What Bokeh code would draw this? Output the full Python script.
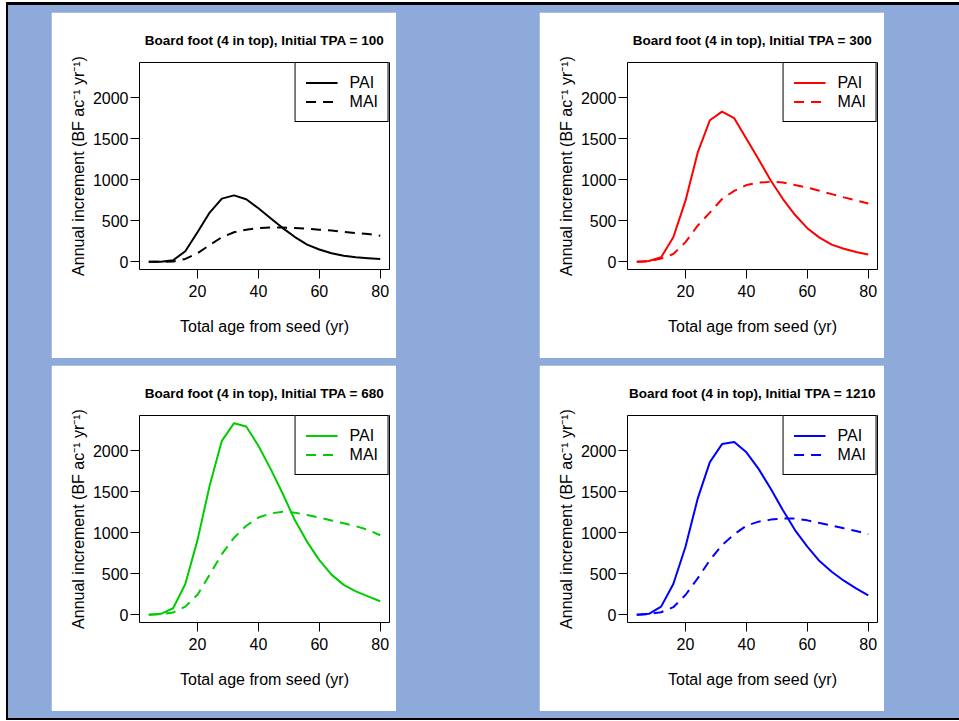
from bokeh.plotting import figure
from bokeh.models import (FixedTicker, Legend, LegendItem, Range1d, Spacer,
                          Column, Row)
from bokeh.embed import file_html
from bokeh.resources import INLINE

# Stand age (yr from seed)
age = [4, 8, 12, 16, 20, 24, 28, 32, 36, 40, 44, 48, 52, 56, 60, 64, 68, 72, 76, 80]

# Periodic (PAI) and mean (MAI) annual board-foot increment, BF/ac/yr
pai_100 = [0, 0, 20, 129, 360, 600, 770, 810, 762, 653, 532, 411, 302, 210, 150, 105, 75, 55, 45, 35]
mai_100 = [0, 0, 5, 35, 105, 205, 300, 360, 392, 410, 420, 418, 413, 403, 392, 382, 365, 350, 338, 318]

pai_300 = [0, 10, 55, 300, 745, 1330, 1725, 1830, 1750, 1500, 1250, 990, 765, 570, 410, 295, 210, 160, 120, 90]
mai_300 = [0, 5, 40, 95, 240, 440, 600, 765, 865, 935, 965, 975, 967, 935, 905, 865, 825, 785, 750, 710]

pai_680 = [0, 12, 80, 375, 910, 1575, 2120, 2335, 2295, 2060, 1778, 1475, 1151, 889, 667, 490, 365, 285, 225, 165]
mai_680 = [0, 8, 28, 100, 245, 490, 740, 940, 1085, 1185, 1235, 1255, 1245, 1215, 1185, 1150, 1115, 1080, 1035, 970]

pai_1210 = [0, 12, 100, 375, 830, 1415, 1860, 2080, 2105, 1980, 1778, 1535, 1273, 1030, 830, 655, 525, 416, 323, 238]
mai_1210 = [0, 10, 32, 93, 242, 444, 667, 850, 980, 1087, 1135, 1160, 1175, 1172, 1151, 1119, 1087, 1054, 1022, 982]

tpa_levels = [100, 300, 680, 1210]
series_colors = ["black", "#FF0000", "#00CD00", "#0000FF"]
pai_series = [pai_100, pai_300, pai_680, pai_1210]
mai_series = [mai_100, mai_300, mai_680, mai_1210]

x_ticks = [20, 40, 60, 80]
y_ticks = [0, 500, 1000, 1500, 2000]

BLUE = "#8EAADB"
FONT = "Liberation Sans"

# shared limits across panels (data range padded by 4% on each side)
x_lo, x_hi = min(age), max(age)
y_lo, y_hi = 0, max(max(s) for s in pai_series + mai_series)
xpad = 0.04 * (x_hi - x_lo)
ypad = 0.04 * (y_hi - y_lo)


def make_panel(tpa, color, pai, mai):
    p = figure(width=345, height=346, output_backend="svg", toolbar_location=None,
               x_range=Range1d(x_lo - xpad, x_hi + xpad),
               y_range=Range1d(y_lo - ypad, y_hi + ypad),
               min_border_left=88, min_border_right=7,
               min_border_top=50, min_border_bottom=89,
               title=f"Board foot (4 in top), Initial TPA = {tpa}")
    p.title.text_font = FONT
    p.title.text_font_size = "13.5px"
    p.title.text_font_style = "bold"
    p.title.text_color = "black"
    p.title.align = "center"
    p.title.standoff = 30

    p.background_fill_color = "white"
    p.border_fill_color = "white"
    p.outline_line_color = "black"
    p.outline_line_width = 1
    p.outline_line_alpha = 1
    p.xgrid.visible = False
    p.ygrid.visible = False

    p.xaxis.ticker = FixedTicker(ticks=x_ticks)
    p.yaxis.ticker = FixedTicker(ticks=y_ticks)
    for ax in (p.xaxis[0], p.yaxis[0]):
        ax.axis_line_color = None
        ax.minor_tick_line_color = None
        ax.major_tick_in = 0
        ax.major_tick_out = 9
        ax.major_tick_line_color = "black"
        ax.major_tick_line_width = 1
        ax.major_label_text_font = FONT
        ax.major_label_text_font_size = "16px"
        ax.major_label_text_color = "black"
        ax.axis_label_text_font = FONT
        ax.axis_label_text_font_size = "16px"
        ax.axis_label_text_font_style = "normal"
        ax.axis_label_text_color = "black"
    p.xaxis.major_label_standoff = 6
    p.yaxis.major_label_standoff = 2
    p.xaxis.axis_label = "Total age from seed (yr)"
    p.yaxis.axis_label = "Annual increment (BF ac\u207b\u00b9 yr\u207b\u00b9)"
    p.xaxis.axis_label_standoff = 18
    p.yaxis.axis_label_standoff = 3

    r_pai = p.line(age, pai, line_color=color, line_width=2)
    r_mai = p.line(age, mai, line_color=color, line_width=2, line_dash="10 7")

    legend = Legend(items=[LegendItem(label="PAI", renderers=[r_pai]),
                           LegendItem(label="MAI", renderers=[r_mai])],
                    location="top_right", margin=0, padding=10, spacing=0,
                    glyph_width=32, glyph_height=19, label_height=19,
                    label_standoff=12, label_text_font=FONT,
                    label_text_font_size="16px", label_text_color="black",
                    border_line_color="black", border_line_width=1,
                    border_line_alpha=1, background_fill_color="white",
                    background_fill_alpha=1)
    p.add_layout(legend)
    return p


panels = [make_panel(t, c, a, m)
          for t, c, a, m in zip(tpa_levels, series_colors, pai_series, mai_series)]
panels[0].margin = (7, 0, 0, 43)
panels[1].margin = (7, 0, 0, 143)
panels[2].margin = (7, 0, 0, 43)
panels[3].margin = (7, 0, 0, 143)

content = Column(children=[Row(children=[panels[0], panels[1]]),
                           Row(children=[panels[2], panels[3]])],
                 width=951, height=713, styles={"background-color": BLUE})

top_line = Spacer(width=953, height=3, styles={"background-color": "black"})
left_line = Spacer(width=2, height=713, styles={"background-color": "black"})
bottom_line = Spacer(width=953, height=2, styles={"background-color": "black"})

page = Column(children=[top_line, Row(children=[left_line, content]), bottom_line],
              margin=(2, 0, 0, 6))

open("out.html", "w").write(file_html(page, INLINE))
